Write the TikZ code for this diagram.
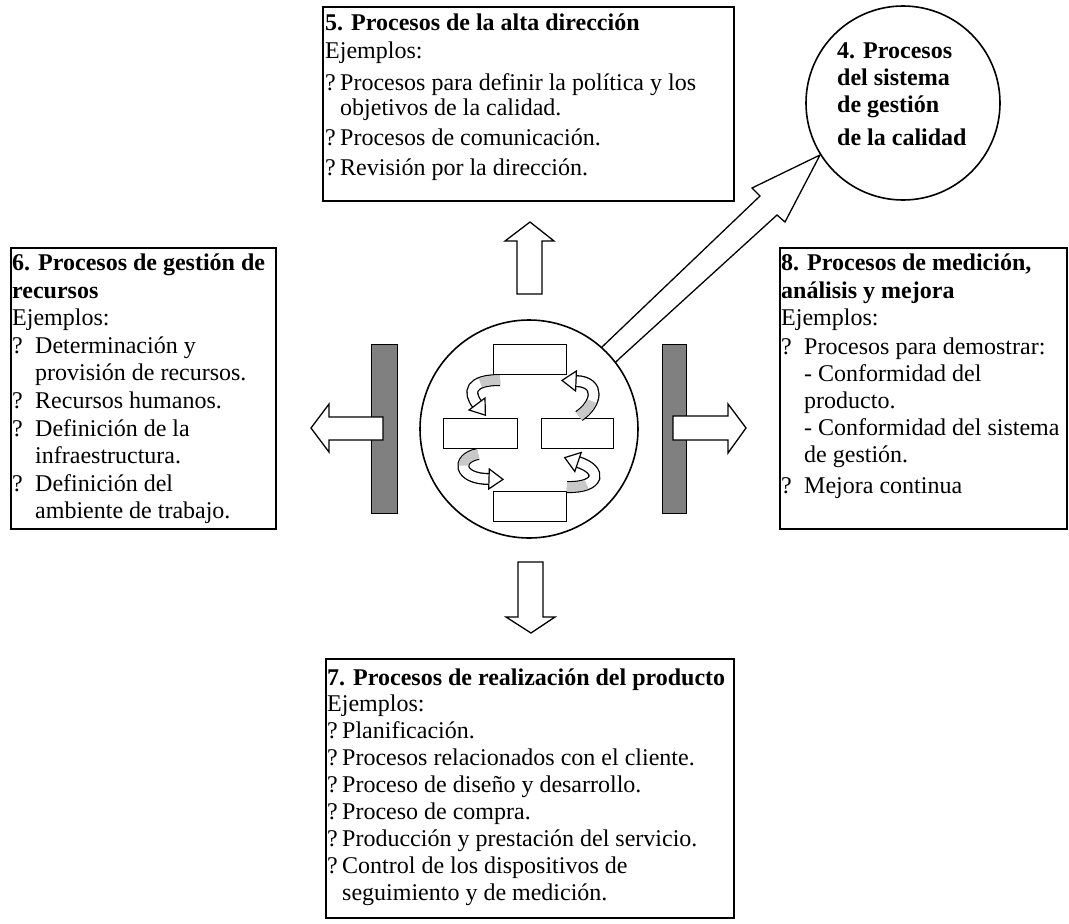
\documentclass[tikz,border=0pt]{standalone}
\usepackage{fontspec}
\setmainfont{Liberation Serif}
\definecolor{barcol}{HTML}{808080}
\definecolor{ribcol}{HTML}{C8C8C8}
\newcommand{\bulA}{\makebox[15pt][l]{?}}
\newcommand{\indA}{\hspace*{15pt}}
\newcommand{\bulB}{\makebox[23pt][l]{?}}
\newcommand{\indB}{\hspace*{23pt}}
\begin{document}
\begin{tikzpicture}[x=1pt,y=-1pt,
  box/.style={draw, line width=1.6pt, fill=white, inner sep=0pt, anchor=north west, rectangle},
  txt/.style={anchor=north west, inner sep=0pt, align=left},
  barbox/.style={draw, line width=1.4pt, fill=barcol, inner sep=0pt, anchor=north west, rectangle},
  blockarrow/.style={draw, line width=1.3pt, fill=white, line join=miter},
  smallrect/.style={draw, line width=1.3pt, fill=white, inner sep=0pt, anchor=north west, rectangle},
  ribout/.style={line width=12pt, draw=black},
  ribin/.style={line width=9.4pt, draw=white},
  ribgray/.style={line width=9.4pt, draw=ribcol, dash pattern=on 20pt off 400pt},
  ribhead/.style={draw, line width=1.2pt, fill=white, line join=miter},
  bigcircle/.style={circle, draw, line width=1.6pt, fill=white, inner sep=0pt},
]
\useasboundingbox (0,0) rectangle (1069,924);

% grey bars
\node[barbox, minimum width=26pt, minimum height=169pt] (barL) at (371,344) {};
\node[barbox, minimum width=24pt, minimum height=169pt] (barR) at (662,344) {};

% block arrows
\draw[blockarrow] (383,417) -- (329,417) -- (329,404) -- (311,428) -- (329,452) -- (329,440) -- (383,440) -- cycle;
\draw[blockarrow] (673,416) -- (728,416) -- (728,404) -- (746,428) -- (728,453) -- (728,440) -- (673,440) -- cycle;
\draw[blockarrow] (517,294) -- (517,241) -- (505,241) -- (530,222) -- (554,241) -- (542,241) -- (542,294) -- cycle;
\draw[blockarrow] (518,562) -- (518,617) -- (506,617) -- (531,633) -- (555,617) -- (543,617) -- (543,562) -- cycle;
\draw[blockarrow] (573,375) -- (602,347) -- (760,196) -- (752,188) -- (820,155) -- (785,222) -- (777,215) -- (620,358) -- (591,386) -- cycle;

% central circle
\node[bigcircle, minimum size=218pt] (core) at (529,429) {};

% inner rectangles
\node[smallrect, minimum width=73pt, minimum height=30pt] (rT) at (493,344) {};
\node[smallrect, minimum width=74pt, minimum height=30pt] (rL) at (443,418) {};
\node[smallrect, minimum width=72pt, minimum height=30pt] (rR) at (541,418) {};
\node[smallrect, minimum width=73pt, minimum height=30pt] (rB) at (493,491) {};

% curved ribbon arrows
% top -> left
\draw[ribout] (500,380) .. controls (470,380) and (468,392) .. (477,404);
\draw[ribin]  (500,380) .. controls (470,380) and (468,392) .. (477,404);
\draw[ribgray] (500,380) .. controls (470,380) and (468,392) .. (477,404);
\filldraw[ribhead] (469,410) -- (485.4,415.2) -- (485,398) -- cycle;
% right -> top
\draw[ribout] (579,416) .. controls (597,404) and (601,382) .. (576,381);
\draw[ribin]  (579,416) .. controls (597,404) and (601,382) .. (576,381);
\draw[ribgray] (579,416) .. controls (597,404) and (601,382) .. (576,381);
\filldraw[ribhead] (576.4,371) -- (562,380.4) -- (575.6,391) -- cycle;
% left -> bottom
\draw[ribout] (478,454) .. controls (456,458) and (458,479) .. (489,479);
\draw[ribin]  (478,454) .. controls (456,458) and (458,479) .. (489,479);
\draw[ribgray] (478,454) .. controls (456,458) and (458,479) .. (489,479);
\filldraw[ribhead] (489.3,469) -- (503,479.4) -- (488.7,489) -- cycle;
% bottom -> right
\draw[ribout] (567,487) .. controls (600,488) and (603,470) .. (578,462);
\draw[ribin]  (567,487) .. controls (600,488) and (603,470) .. (578,462);
\draw[ribgray] (567,487) .. controls (600,488) and (603,470) .. (578,462);
\filldraw[ribhead] (581.2,452.5) -- (564.7,457.6) -- (574.8,471.5) -- cycle;

% circle 4
\node[bigcircle, minimum size=194pt] (c4) at (903,103) {};
\node[txt, font=\fontsize{24}{27}\selectfont\bfseries] (t4) at (837,42.6)
  {4. Procesos\\del sistema\\de gestión\\[6pt]de la calidad};

% boxes
\node[box, minimum width=411pt, minimum height=194pt] (p5) at (322,6) {};
\node[box, minimum width=265pt, minimum height=281pt] (p6) at (10,247) {};
\node[box, minimum width=287pt, minimum height=281pt] (p8) at (779,247) {};
\node[box, minimum width=408pt, minimum height=259pt] (p7) at (325,658) {};

\node[txt, font=\fontsize{24}{25}\selectfont] (t5) at (325,13.6) {%
\textbf{5. Procesos de la alta dirección}\\[3pt]
Ejemplos:\\[7pt]
\bulA Procesos para definir la política y los\\
\indA objetivos de la calidad.\\[5pt]
\bulA Procesos de comunicación.\\[5pt]
\bulA Revisión por la dirección.};

\node[txt, font=\fontsize{24}{27}\selectfont] (t6) at (12,253.6) {%
\textbf{6. Procesos de gestión de}\\[1pt]
\textbf{recursos}\\
Ejemplos:\\[1pt]
\bulB Determinación y\\
\indB provisión de recursos.\\[1pt]
\bulB Recursos humanos.\\[1pt]
\bulB Definición de la\\
\indB infraestructura.\\[1pt]
\bulB Definición del\\
\indB ambiente de trabajo.};

\node[txt, font=\fontsize{24}{27}\selectfont] (t8) at (781,253.6) {%
\textbf{8. Procesos de medición,}\\[1pt]
\textbf{análisis y mejora}\\
Ejemplos:\\[2pt]
\bulB Procesos para demostrar:\\
\indB - Conformidad del\\
\indB producto.\\
\indB - Conformidad del sistema\\
\indB de gestión.\\[4pt]
\bulB Mejora continua};

\node[txt, font=\fontsize{24}{27}\selectfont] (t7) at (327,668.6) {%
\textbf{7. Procesos de realización del producto}\\[-1pt]
Ejemplos:\\
\bulA Planificación.\\
\bulA Procesos relacionados con el cliente.\\
\bulA Proceso de diseño y desarrollo.\\
\bulA Proceso de compra.\\
\bulA Producción y prestación del servicio.\\
\bulA Control de los dispositivos de\\
\indA seguimiento y de medición.};
\end{tikzpicture}
\end{document}
